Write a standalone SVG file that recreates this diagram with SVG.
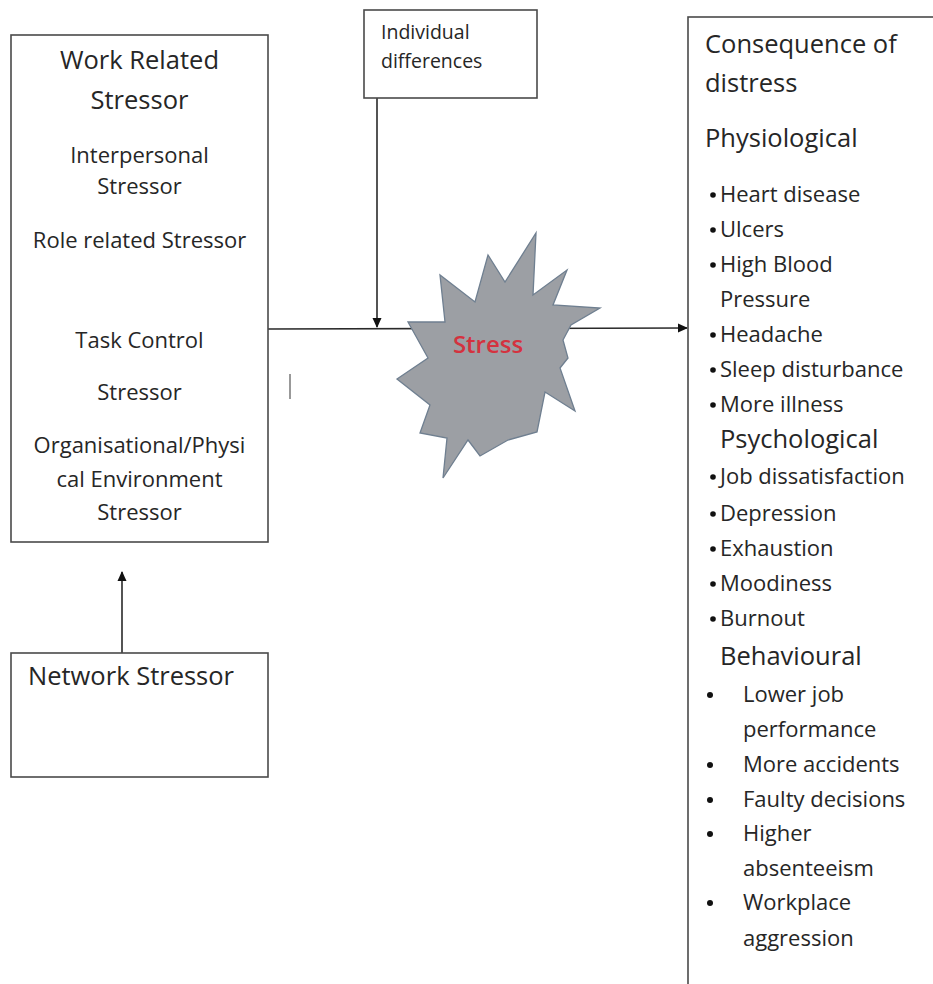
<svg xmlns="http://www.w3.org/2000/svg" width="933" height="984" viewBox="0 0 933 984">
<style>
  .box{fill:#fff;stroke:#4a4a4a;stroke-width:1.6}
  .t{font-family:"Open Sans","Noto Sans",sans-serif;fill:#262626}
  .h{font-size:25.5px}
  .b{font-size:22px}
  .s{font-size:19.5px}
  .c{text-anchor:middle}
  .dot{fill:#111}
  .con{stroke:#2a2a2a;stroke-width:1.6;fill:none}
</style>
<defs>
  <marker id="arr" markerWidth="10" markerHeight="10" refX="9" refY="5" orient="auto" markerUnits="userSpaceOnUse">
    <path d="M0,0.5 L10,5 L0,9.5 Z" fill="#111"/>
  </marker>
</defs>
<rect width="933" height="984" fill="#fff"/>

<g id="connectors">
  <line class="con" x1="377" y1="98" x2="377" y2="327" marker-end="url(#arr)"/>
  <line class="con" x1="268" y1="329" x2="687" y2="328" marker-end="url(#arr)"/>
  <line class="con" x1="122" y1="653" x2="122" y2="572" marker-end="url(#arr)"/>
</g>

<g id="work-related">
  <rect class="box" x="11" y="35" width="257" height="507"/>
  <text class="t h c" x="139.5" y="69">Work Related</text>
  <text class="t h c" x="139.5" y="109">Stressor</text>
  <text class="t b c" x="139.5" y="163">Interpersonal</text>
  <text class="t b c" x="139.5" y="194">Stressor</text>
  <text class="t b c" x="139.5" y="248">Role related Stressor</text>
  <text class="t b c" x="139.5" y="348">Task Control</text>
  <text class="t b c" x="139.5" y="400">Stressor</text>
  <text class="t b c" x="139.5" y="453">Organisational/Physi</text>
  <text class="t b c" x="139.5" y="487">cal Environment</text>
  <text class="t b c" x="139.5" y="520">Stressor</text>
</g>

<g id="network">
  <rect class="box" x="11" y="653" width="257" height="124"/>
  <text class="t h" x="28" y="685">Network Stressor</text>
</g>

<g id="individual">
  <rect class="box" x="364" y="10" width="173" height="88"/>
  <text class="t s" x="381" y="39">Individual</text>
  <text class="t s" x="381" y="68">differences</text>
</g>

<line x1="290" y1="374" x2="290" y2="399" stroke="#555" stroke-width="1.2"/>

<g id="stress">
  <polygon points="536,233 533,295 567,270 553,305 600,308 571,325 563,340 568,358 560,368 575,411 545,392 537,432 508,440 480,456 468,440 443,478 447,438 420,433 430,405 397,379 428,358 408,322 445,322 440,275 475,302 488,255 505,282" fill="#9c9fa4" stroke="#6f7f90" stroke-width="1.3" stroke-linejoin="miter"/>
  <text x="488" y="353" text-anchor="middle" font-family="Open Sans, Noto Sans, sans-serif" font-size="24" font-weight="600" fill="#d4323f">Stress</text>
</g>

<g id="consequence">
  <rect class="box" x="688" y="17" width="260" height="985"/>
  <text class="t h" x="705" y="53">Consequence of</text>
  <text class="t h" x="705" y="92">distress</text>
  <text class="t h" x="705" y="147">Physiological</text>
  <g>
    <circle class="dot" cx="713" cy="195" r="2.8"/><text class="t b" x="720" y="202">Heart disease</text>
    <circle class="dot" cx="713" cy="230" r="2.8"/><text class="t b" x="720" y="237">Ulcers</text>
    <circle class="dot" cx="713" cy="265" r="2.8"/><text class="t b" x="720" y="272">High Blood</text>
    <text class="t b" x="720" y="307">Pressure</text>
    <circle class="dot" cx="713" cy="335" r="2.8"/><text class="t b" x="720" y="342">Headache</text>
    <circle class="dot" cx="713" cy="370" r="2.8"/><text class="t b" x="720" y="377">Sleep disturbance</text>
    <circle class="dot" cx="713" cy="405" r="2.8"/><text class="t b" x="720" y="412">More illness</text>
  </g>
  <text class="t h" x="720" y="448">Psychological</text>
  <g>
    <circle class="dot" cx="713" cy="477" r="2.8"/><text class="t b" x="720" y="484">Job dissatisfaction</text>
    <circle class="dot" cx="713" cy="514" r="2.8"/><text class="t b" x="720" y="521">Depression</text>
    <circle class="dot" cx="713" cy="549" r="2.8"/><text class="t b" x="720" y="556">Exhaustion</text>
    <circle class="dot" cx="713" cy="584" r="2.8"/><text class="t b" x="720" y="591">Moodiness</text>
    <circle class="dot" cx="713" cy="619" r="2.8"/><text class="t b" x="720" y="626">Burnout</text>
  </g>
  <text class="t h" x="720" y="665">Behavioural</text>
  <g>
    <circle class="dot" cx="710" cy="695" r="3"/><text class="t b" x="743" y="702">Lower job</text>
    <text class="t b" x="743" y="737">performance</text>
    <circle class="dot" cx="710" cy="765" r="3"/><text class="t b" x="743" y="772">More accidents</text>
    <circle class="dot" cx="710" cy="800" r="3"/><text class="t b" x="743" y="807">Faulty decisions</text>
    <circle class="dot" cx="710" cy="834" r="3"/><text class="t b" x="743" y="841">Higher</text>
    <text class="t b" x="743" y="876">absenteeism</text>
    <circle class="dot" cx="710" cy="903" r="3"/><text class="t b" x="743" y="910">Workplace</text>
    <text class="t b" x="743" y="946">aggression</text>
  </g>
</g>
</svg>
